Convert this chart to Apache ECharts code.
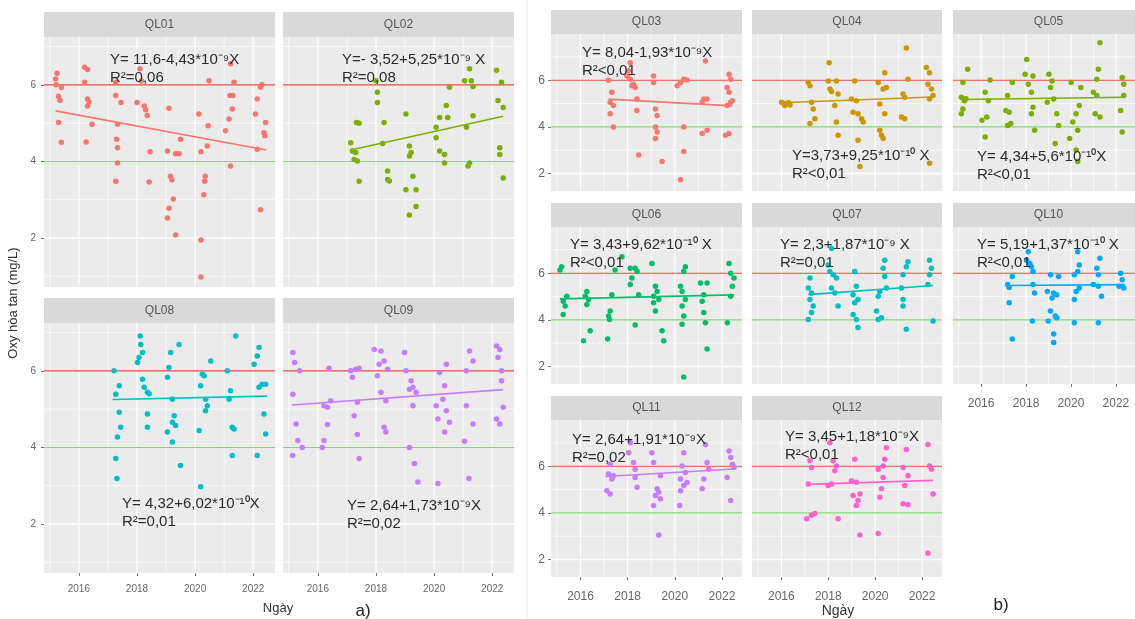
<!DOCTYPE html>
<html><head><meta charset="utf-8">
<script src="https://cdn.jsdelivr.net/npm/echarts@6/dist/echarts.min.js"></script>
<style>html,body{margin:0;padding:0;background:#fff}#c{width:1135px;height:619px}</style>
</head><body><div id="c"></div>
<script>
// ---------------- DATA ----------------
const stations = ['QL01','QL02','QL08','QL09','QL03','QL04','QL05','QL06','QL07','QL10','QL11','QL12'];
const pointColors = ['#F8766D','#7CAE00','#00BFC4','#C77CFF','#F8766D','#CD9600','#7CAE00','#00BE67','#00BFC4','#00A9FF','#C77CFF','#FF61CC'];

const ql01 = [[2015.25,6.30],[2015.20,6.15],[2015.22,6.00],[2015.40,5.93],[2015.30,5.70],[2015.35,5.60],[2015.30,5.02],[2015.40,4.50],
[2016.20,6.46],[2016.30,6.40],[2016.20,6.07],[2016.30,5.63],[2016.35,5.55],[2016.30,5.45],[2016.45,4.97],[2016.25,4.51],
[2017.27,6.07],[2017.27,5.72],[2017.45,5.54],[2017.33,4.97],[2017.30,4.58],[2017.33,4.36],[2017.33,3.96],[2017.27,3.48],
[2018.10,6.42],[2018.15,6.10],[2018.00,5.54],[2018.25,5.45],[2018.30,5.35],[2018.35,5.20],[2018.45,4.25],[2018.42,3.46],
[2019.10,5.39],[2019.50,4.58],[2019.05,4.27],[2019.33,4.20],[2019.45,4.20],[2019.15,3.61],[2019.20,3.52],[2019.25,3.02],[2019.10,2.78],[2019.05,2.52],[2019.33,2.08],
[2020.48,6.11],[2020.13,5.24],[2020.45,4.93],[2020.42,4.40],[2020.20,4.25],[2020.35,3.61],[2020.33,3.48],[2020.30,3.13],[2020.20,1.95],[2020.20,0.98],
[2021.22,6.55],[2021.34,6.07],[2021.20,5.72],[2021.30,5.72],[2021.28,5.37],[2021.17,5.11],[2021.05,4.80],[2021.22,3.88],
[2022.25,5.94],[2022.30,6.00],[2022.14,5.63],[2022.08,5.24],[2022.43,5.02],[2022.37,4.75],[2022.40,4.67],[2022.14,4.32],[2022.25,2.74]];

const ql02 = [[2017.33,5.02],[2017.42,5.00],[2017.13,4.49],[2017.19,4.27],[2017.30,4.23],[2017.25,4.05],[2017.36,4.01],[2017.42,3.48],
[2018.00,6.11],[2018.05,5.81],[2018.05,5.54],[2018.28,5.02],[2018.23,4.47],[2018.40,3.75],[2018.40,3.53],[2018.46,3.49],
[2019.03,5.24],[2019.15,4.40],[2019.21,4.23],[2019.15,4.14],[2019.27,3.61],[2019.03,3.26],[2019.38,3.26],[2019.38,2.82],[2019.15,2.60],
[2020.53,5.94],[2020.42,5.46],[2020.19,5.15],[2020.47,5.15],[2020.07,4.89],[2020.07,4.62],[2020.19,4.27],[2020.36,4.18],[2020.36,3.96],
[2021.22,6.42],[2021.05,6.11],[2021.28,6.11],[2021.34,5.96],[2021.34,5.19],[2021.11,4.89],[2021.22,3.96],[2021.17,3.88],
[2022.15,6.38],[2022.32,6.07],[2022.20,5.59],[2022.38,5.41],[2022.26,4.36],[2022.26,4.18],[2022.38,3.57]];

const ql08 = [[2017.21,6.00],[2017.27,5.39],[2017.39,5.61],[2017.39,4.92],[2017.44,4.53],[2017.33,4.27],[2017.27,3.71],[2017.31,3.19],
[2018.11,6.91],[2018.13,6.69],[2018.19,6.48],[2018.07,6.35],[2018.02,6.22],[2018.19,5.78],[2018.25,5.57],[2018.36,5.44],[2018.42,5.40],[2018.36,4.87],[2018.36,4.53],
[2019.16,6.48],[2019.10,6.09],[2019.45,6.69],[2019.05,5.83],[2019.22,5.26],[2019.28,4.83],[2019.22,4.66],[2019.33,4.57],[2019.05,4.40],[2019.22,4.14],[2019.50,3.53],
[2020.54,6.26],[2020.25,5.91],[2020.31,5.87],[2020.19,5.61],[2020.36,5.26],[2020.42,5.09],[2020.36,4.96],[2020.14,4.44],[2020.19,2.97],
[2021.40,6.91],[2021.11,6.00],[2021.22,5.48],[2021.17,5.26],[2021.28,4.53],[2021.34,4.48],[2021.28,3.79],
[2022.20,6.61],[2022.14,6.39],[2022.03,6.17],[2022.31,5.65],[2022.43,5.65],[2022.20,5.57],[2022.37,4.87],[2022.43,4.35],[2022.14,3.79]];

const ql09 = [[2015.14,6.48],[2015.20,6.22],[2015.37,6.00],[2015.14,5.39],[2015.25,4.61],[2015.31,4.18],[2015.46,4.00],[2015.13,3.79],
[2016.38,6.07],[2016.21,5.09],[2016.33,5.05],[2016.44,5.22],[2016.33,4.60],[2016.21,4.18],[2016.15,4.00],
[2017.13,6.00],[2017.19,5.83],[2017.30,6.04],[2017.42,6.07],[2017.36,5.18],[2017.25,4.83],[2017.36,4.34],[2017.42,3.71],
[2017.94,6.56],[2018.17,6.52],[2018.28,6.26],[2018.11,6.17],[2018.40,6.04],[2018.05,5.87],[2018.17,5.44],[2018.34,5.22],[2018.28,4.53],[2018.34,4.40],
[2018.98,6.48],[2019.03,6.00],[2019.21,5.74],[2019.15,5.52],[2019.27,5.57],[2019.38,5.44],[2019.27,5.09],[2019.15,4.00],[2019.32,3.58],[2019.44,3.10],
[2020.42,6.17],[2020.19,5.96],[2020.36,5.61],[2020.30,5.26],[2020.07,5.09],[2020.42,4.96],[2020.13,4.74],[2020.53,4.66],[2020.36,4.40],[2020.13,3.06],
[2021.22,6.52],[2021.34,6.26],[2021.11,6.00],[2021.11,5.09],[2021.34,4.61],[2021.05,4.16],[2021.20,3.19],
[2022.15,6.65],[2022.26,6.56],[2022.20,6.35],[2022.32,6.00],[2022.32,5.74],[2022.38,5.05],[2022.15,4.74],[2022.26,4.61]];

const ql03 = [[2017.19,6.00],[2017.33,5.48],[2017.26,5.05],[2017.40,4.91],[2017.26,4.56],[2017.40,3.99],
[2018.11,6.75],[2018.04,6.40],[2017.97,6.18],[2018.11,6.04],[2018.25,5.83],[2018.32,5.69],[2018.18,5.76],[2018.39,5.19],[2018.39,4.70],[2018.47,2.79],
[2019.10,6.18],[2019.10,5.90],[2019.18,4.77],[2019.25,4.49],[2019.18,3.99],[2019.25,3.78],[2019.18,3.50],[2019.46,2.51],
[2020.38,6.04],[2020.24,5.90],[2020.10,5.76],[2020.52,6.01],[2020.38,3.99],[2020.38,2.94],[2020.24,1.73],
[2021.30,6.82],[2021.23,5.19],[2021.16,5.05],[2021.37,5.19],[2021.16,3.71],[2021.37,3.85],
[2022.30,6.25],[2022.37,6.04],[2022.22,5.69],[2022.30,5.48],[2022.37,5.05],[2022.22,4.91],[2022.44,5.12],[2022.30,3.71],[2022.15,3.64]];

const ql04 = [[2016.01,5.05],[2016.15,4.91],[2016.30,5.03],[2016.37,4.94],[2016.10,5.00],
[2017.15,5.90],[2017.22,5.76],[2017.29,5.05],[2017.36,4.77],[2017.22,4.14],[2017.43,4.35],
[2018.04,6.75],[2018.00,5.97],[2018.07,5.62],[2018.14,5.51],[2018.35,5.97],[2018.42,5.41],[2018.28,4.91],[2018.35,4.21],[2018.42,3.64],
[2019.13,5.97],[2018.99,5.19],[2019.20,5.12],[2019.06,4.63],[2019.27,4.56],[2019.42,4.35],[2019.49,4.21],[2019.27,3.43],[2019.35,2.30],
[2020.41,6.32],[2020.13,5.90],[2020.34,5.62],[2020.48,5.69],[2020.20,4.98],[2020.41,4.56],[2020.20,3.85],[2020.27,3.64],[2020.34,3.50],
[2021.33,7.38],[2021.40,6.04],[2021.19,5.41],[2021.26,5.27],[2021.12,4.42],[2021.26,4.35],
[2022.18,6.54],[2022.32,6.32],[2022.25,5.83],[2022.40,5.62],[2022.47,5.34],[2022.32,5.19],[2022.32,2.44]];

const ql05 = [[2015.40,6.47],[2015.19,5.90],[2015.12,5.27],[2015.26,5.12],[2015.33,5.20],[2015.19,4.77],[2015.12,4.56],
[2016.40,6.01],[2016.18,5.48],[2016.32,5.12],[2016.25,4.42],[2016.04,4.28],[2016.18,3.57],
[2017.39,5.90],[2017.18,5.34],[2017.10,4.70],[2017.25,4.63],[2017.32,4.14],[2017.18,4.06],
[2018.03,6.89],[2017.96,6.25],[2018.10,5.83],[2018.31,6.18],[2018.24,5.48],[2018.31,4.84],[2018.24,4.56],[2018.38,3.85],
[2019.02,6.25],[2019.16,5.97],[2019.09,5.69],[2019.23,5.19],[2018.95,5.05],[2019.37,4.56],[2019.45,4.06],[2019.30,3.29],
[2020.01,5.90],[2020.44,5.69],[2020.37,4.91],[2020.23,4.56],[2020.08,4.21],[2020.30,3.85],[2019.94,3.50],[2020.23,3.01],[2020.30,2.51],
[2021.29,7.60],[2021.22,6.47],[2021.15,6.04],[2021.00,5.48],[2021.15,5.34],[2021.08,4.56],[2021.29,4.42],
[2022.28,6.11],[2022.35,5.83],[2022.35,5.34],[2022.21,4.70],[2022.28,3.78]];

const ql06 = [[2015.20,6.28],[2015.13,6.14],[2015.42,5.01],[2015.27,4.80],[2015.35,4.59],[2015.27,4.23],
[2016.27,5.22],[2016.20,5.01],[2016.34,4.87],[2016.27,4.66],[2016.41,3.53],[2016.13,3.10],
[2017.47,6.14],[2017.33,5.08],[2017.26,4.38],[2017.19,4.16],[2017.23,4.02],[2017.15,3.18],
[2017.76,6.71],[2018.11,6.21],[2018.32,6.21],[2018.40,6.07],[2018.18,5.79],[2018.11,5.51],[2018.47,5.08],[2018.32,3.78],
[2019.03,6.42],[2019.18,5.44],[2019.25,5.22],[2019.10,5.01],[2019.32,4.87],[2019.10,4.73],[2019.18,4.38],[2019.46,3.53],[2019.53,3.10],
[2020.45,6.28],[2020.38,6.07],[2020.24,5.44],[2020.31,5.22],[2020.45,4.87],[2020.31,4.59],[2020.38,4.16],[2020.31,3.81],[2020.38,1.55],
[2021.09,5.58],[2021.37,5.58],[2021.23,5.08],[2021.16,4.80],[2021.23,4.31],[2021.30,3.88],[2021.37,2.75],
[2022.30,6.42],[2022.37,6.00],[2022.51,5.79],[2022.44,5.44],[2022.37,5.01],[2022.23,3.88]];

const ql07 = [[2017.22,5.79],[2017.15,5.36],[2017.29,5.15],[2017.22,4.87],[2017.36,4.59],[2017.29,4.31],[2017.15,4.02],
[2018.14,7.06],[2018.00,6.35],[2018.07,6.07],[2018.21,5.93],[2018.35,5.79],[2018.14,5.36],[2018.42,4.59],[2018.28,5.15],
[2019.13,6.07],[2019.20,5.44],[2019.06,5.08],[2019.27,4.87],[2019.13,4.73],[2019.06,4.23],[2019.20,4.02],[2019.27,3.67],
[2020.41,6.56],[2020.34,6.21],[2020.41,5.86],[2020.48,5.36],[2020.20,5.22],[2020.13,5.01],[2020.06,4.38],[2020.13,4.02],[2020.27,4.09],
[2021.40,6.49],[2021.33,6.28],[2021.19,5.93],[2021.12,5.36],[2021.19,4.87],[2021.19,4.59],[2021.33,3.60],
[2022.32,6.56],[2022.40,6.21],[2022.32,5.93],[2022.25,5.51],[2022.47,3.95]];

const ql10 = [[2017.39,5.86],[2017.18,5.51],[2017.25,5.39],[2017.25,4.73],[2017.39,3.18],
[2018.10,6.92],[2018.03,6.56],[2018.17,6.42],[2018.24,6.28],[2018.31,6.07],[2018.31,5.51],[2018.38,5.15],[2018.28,3.95],
[2019.09,5.93],[2019.45,5.86],[2018.95,5.22],[2019.23,5.15],[2019.37,5.08],[2019.16,4.94],[2019.09,4.38],[2019.30,4.16],[2019.37,4.09],[2018.99,3.95],[2019.23,3.39],[2019.23,3.03],
[2020.30,6.92],[2020.37,6.35],[2020.30,6.07],[2020.15,5.93],[2020.37,5.36],[2020.23,5.22],[2020.15,4.87],[2020.15,3.88],
[2021.29,6.64],[2021.15,6.21],[2021.22,5.93],[2021.00,5.51],[2021.22,5.44],[2021.36,5.01],[2021.22,3.88],
[2022.21,6.00],[2022.28,5.72],[2022.14,5.44],[2022.35,5.36]];

const ql11 = [[2017.26,6.08],[2017.19,5.66],[2017.40,5.59],[2017.33,5.45],[2017.12,4.95],[2017.26,4.81],
[2018.11,7.00],[2018.04,6.58],[2018.25,6.16],[2018.32,5.87],[2018.32,5.52],[2018.40,5.10],
[2019.03,6.58],[2019.10,6.16],[2019.39,5.59],[2019.25,5.03],[2019.32,4.88],[2019.18,4.74],[2019.39,4.60],[2019.10,4.32],[2019.32,3.05],
[2020.38,6.58],[2020.31,6.01],[2020.45,5.73],[2020.24,5.45],[2020.38,5.17],[2020.24,4.95],[2020.21,4.32],[2020.52,5.30],
[2021.30,6.93],[2021.37,6.16],[2021.44,5.87],[2021.23,5.45],[2021.16,5.03],
[2022.30,6.65],[2022.37,6.37],[2022.44,6.08],[2022.51,5.94],[2022.22,5.52],[2022.37,4.53]];

const ql12 = [[2017.22,6.23],[2017.29,5.94],[2017.15,5.24],[2017.08,3.75],[2017.43,3.97],[2017.29,3.90],
[2018.07,7.00],[2018.21,6.23],[2018.35,6.01],[2018.28,5.80],[2018.14,5.24],[2018.00,5.17],[2018.42,3.75],
[2019.13,6.30],[2018.99,5.38],[2019.20,5.31],[2019.06,4.74],[2019.35,4.81],[2019.27,4.53],[2019.20,4.32],[2019.35,3.05],
[2020.48,6.79],[2020.41,6.30],[2020.34,6.01],[2020.13,5.87],[2020.34,5.52],[2020.27,5.03],[2020.20,4.67],[2020.13,3.12],
[2021.33,6.72],[2021.19,5.94],[2021.40,5.59],[2021.26,5.17],[2021.19,4.39],[2021.40,4.35],
[2022.25,6.93],[2022.32,6.01],[2022.40,5.87],[2022.47,4.81],[2022.25,2.27]];

const stationPoints = [ql01, ql02, ql08, ql09, ql03, ql04, ql05, ql06, ql07, ql10, ql11, ql12];

// regression line end points: [xStart, yStart, xEnd, yEnd]
const trendLines = [
  [2015.20,5.32,2022.45,4.30],[2017.13,4.30,2022.38,5.18],[2017.16,5.25,2022.48,5.34],[2015.11,5.11,2022.38,5.51],
  [2017.19,5.19,2022.44,4.90],[2016.01,5.03,2022.47,5.28],[2015.12,5.17,2022.40,5.27],[2015.13,4.90,2022.51,5.07],
  [2017.15,5.08,2022.47,5.47],[2017.10,5.47,2022.40,5.51],[2017.05,5.56,2022.51,5.88],[2017.08,5.22,2022.47,5.39]];

const equations = ['Y= 11,6-4,43*10⁻⁹X','Y=- 3,52+5,25*10⁻⁹ X','Y= 4,32+6,02*10⁻¹⁰X','Y= 2,64+1,73*10⁻⁹X',
  'Y= 8,04-1,93*10⁻⁹X','Y=3,73+9,25*10⁻¹⁰ X','Y= 4,34+5,6*10⁻¹⁰X','Y= 3,43+9,62*10⁻¹⁰ X',
  'Y= 2,3+1,87*10⁻⁹ X','Y= 5,19+1,37*10⁻¹⁰ X','Y= 2,64+1,91*10⁻⁹X','Y= 3,45+1,18*10⁻⁹X'];
const r2Labels = ['R²=0,06','R²=0,08','R²=0,01','R²=0,02','R²<0,01','R²<0,01','R²<0,01','R²<0,01','R²=0,01','R²<0,01','R²=0,02','R²<0,01'];

const refLines = [6, 4];
const refColors = ['#E2463D', '#7ED86C'];
const xTickLabels = [2016, 2018, 2020, 2022];
const xMinorBreaks = [2015, 2017, 2019, 2021];
const yTickLabels = [2, 4, 6];
const yMinorBreaks = [1, 3, 5, 7];
const yTitle = 'Oxy hòa tan (mg/L)';
const xTitle = 'Ngày';

// ---------------- LAYOUT ----------------
const groups = {
  a: {xr:[2014.8,2022.75], yr:[0.72,7.25], strip:25, tick:10, xMargin:11, yMargin:8},
  b: {xr:[2014.75,2022.85], yr:[1.25,7.98], strip:24, tick:12, xMargin:14, yMargin:6}
};
const layout = [
  {g:'a', left:44, top:37, w:231, h:250, xl:false, yl:true, eq:[110,60]},
  {g:'a', left:283, top:37, w:231, h:250, xl:false, yl:false, eq:[342,60]},
  {g:'a', left:44, top:323, w:231, h:250, xl:true, yl:true, eq:[122,504]},
  {g:'a', left:283, top:323, w:231, h:250, xl:true, yl:false, eq:[347,506]},
  {g:'b', left:551, top:34, w:191, h:157, xl:false, yl:true, eq:[582,53]},
  {g:'b', left:752, top:34, w:190, h:157, xl:false, yl:false, eq:[792,156]},
  {g:'b', left:953, top:34, w:191, h:157, xl:false, yl:false, eq:[977,157]},
  {g:'b', left:551, top:227, w:191, h:157, xl:false, yl:true, eq:[570,245]},
  {g:'b', left:752, top:227, w:190, h:157, xl:false, yl:false, eq:[780,245]},
  {g:'b', left:953, top:227, w:191, h:157, xl:true, yl:false, eq:[977,245]},
  {g:'b', left:551, top:420, w:191, h:157, xl:true, yl:true, eq:[572,440]},
  {g:'b', left:752, top:420, w:190, h:157, xl:true, yl:false, eq:[785,437]}
];
const FONT = '"Liberation Sans", Arial, sans-serif';

const grid = [], xAxis = [], yAxis = [], series = [], graphic = [];
function gridLine(i, data, width) {
  series.push({type:'line', xAxisIndex:i, yAxisIndex:i, data, symbol:'none', silent:true, z:5,
    lineStyle:{color:'#FFFFFF', width}, emphasis:{disabled:true}});
}
layout.forEach((L, i) => {
  const G = groups[L.g];
  grid.push({left:L.left, top:L.top, width:L.w, height:L.h, show:true, backgroundColor:'#EBEBEB', borderWidth:0});
  xAxis.push({gridIndex:i, type:'value', min:G.xr[0], max:G.xr[1],
    axisLine:{show:false}, splitLine:{show:false},
    axisTick:{show:L.xl, customValues:xTickLabels, length:3, lineStyle:{color:'#777'}},
    axisLabel:{show:L.xl, customValues:xTickLabels, color:'#666', fontSize:G.tick, margin:G.xMargin, fontFamily:FONT,
      formatter: v => String(v)}});
  yAxis.push({gridIndex:i, type:'value', min:G.yr[0], max:G.yr[1],
    axisLine:{show:false}, splitLine:{show:false},
    axisTick:{show:L.yl, customValues:yTickLabels, length:3, lineStyle:{color:'#777'}},
    axisLabel:{show:L.yl, customValues:yTickLabels, color:'#666', fontSize:G.tick, margin:G.yMargin, fontFamily:FONT,
      formatter: v => String(v)}});
  const col = pointColors[i];
  // gridlines: one two-point line series each (minor thin, major thicker)
  xMinorBreaks.forEach(x => gridLine(i, [[x, G.yr[0]], [x, G.yr[1]]], 0.7));
  yMinorBreaks.filter(v => v > G.yr[0] && v < G.yr[1]).forEach(y => gridLine(i, [[G.xr[0], y], [G.xr[1], y]], 0.7));
  xTickLabels.forEach(x => gridLine(i, [[x, G.yr[0]], [x, G.yr[1]]], 1.3));
  yTickLabels.forEach(y => gridLine(i, [[G.xr[0], y], [G.xr[1], y]], 1.3));
  // reference lines
  refLines.forEach((v, k) => {
    series.push({type:'line', xAxisIndex:i, yAxisIndex:i, data:[[G.xr[0], v], [G.xr[1], v]],
      symbol:'none', lineStyle:{color:refColors[k], width:1.1}, z:8, silent:true});
  });
  // points
  series.push({type:'scatter', xAxisIndex:i, yAxisIndex:i, data:stationPoints[i], symbolSize:5.5,
    itemStyle:{color:col, opacity:1}, z:9, silent:true});
  // regression
  const t = trendLines[i];
  series.push({type:'line', xAxisIndex:i, yAxisIndex:i, data:[[t[0],t[1]],[t[2],t[3]]], symbol:'none',
    lineStyle:{color:col, width:1.6}, z:10, silent:true});
  // strip
  graphic.push({type:'rect', shape:{x:L.left, y:L.top-G.strip, width:L.w, height:G.strip}, style:{fill:'#D9D9D9'}, silent:true});
  graphic.push({type:'text', x:L.left+L.w/2, y:L.top-G.strip/2, silent:true,
    style:{text:stations[i], align:'center', verticalAlign:'middle', fill:'#555', font:'12px '+FONT}});
  // annotation
  graphic.push({type:'text', x:L.eq[0], y:L.eq[1]-9, z:100, silent:true,
    style:{text:equations[i]+'\n'+r2Labels[i], fill:'#2a2a2a', font:'15px '+FONT, lineHeight:18, align:'left', verticalAlign:'top'}});
});
graphic.push({type:'line', shape:{x1:527, y1:0, x2:527, y2:619}, style:{stroke:'#E3E3E3', lineWidth:1}, silent:true});
graphic.push({type:'text', x:13, y:303, rotation:Math.PI/2, silent:true,
  style:{text:yTitle, align:'center', verticalAlign:'middle', fill:'#333', font:'13px '+FONT}});
graphic.push({type:'text', x:278, y:608, silent:true,
  style:{text:xTitle, align:'center', verticalAlign:'middle', fill:'#333', font:'13px '+FONT}});
graphic.push({type:'text', x:838, y:611, silent:true,
  style:{text:xTitle, align:'center', verticalAlign:'middle', fill:'#333', font:'14px '+FONT}});
graphic.push({type:'text', x:363, y:611, silent:true,
  style:{text:'a)', align:'center', verticalAlign:'middle', fill:'#222', font:'17px '+FONT}});
graphic.push({type:'text', x:1001, y:605, silent:true,
  style:{text:'b)', align:'center', verticalAlign:'middle', fill:'#222', font:'17px '+FONT}});

const chart = echarts.init(document.getElementById('c'), null, {renderer:'canvas'});
chart.setOption({animation:false, backgroundColor:'#FFFFFF', textStyle:{fontFamily:FONT},
  grid, xAxis, yAxis, series, graphic});
</script></body></html>
